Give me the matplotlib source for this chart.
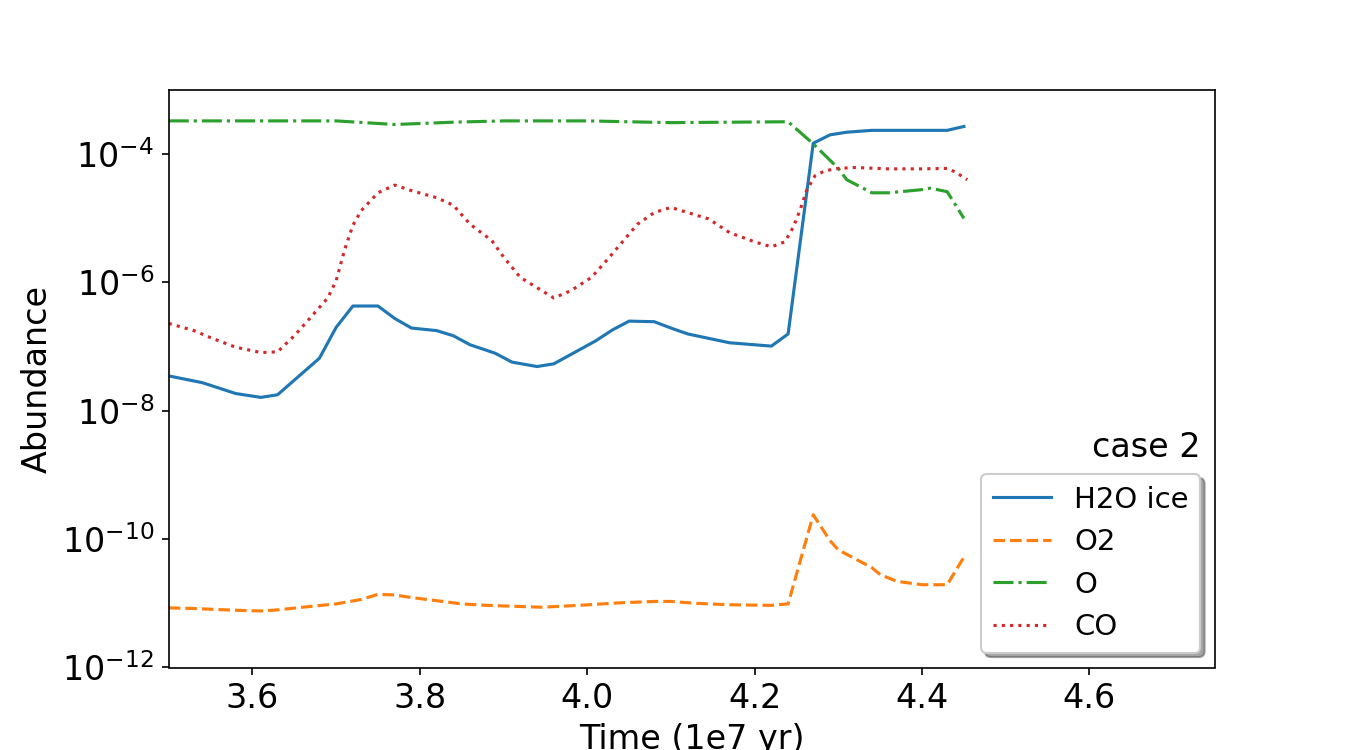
import numpy as np
import matplotlib
matplotlib.use("Agg")
import matplotlib.pyplot as plt
from matplotlib.ticker import NullLocator

# H2O ice
t_h2o = [3.50, 3.54, 3.58, 3.61, 3.63, 3.68, 3.70, 3.72, 3.75, 3.77, 3.79, 3.82,
         3.84, 3.86, 3.89, 3.91, 3.94, 3.96, 4.01, 4.03, 4.05, 4.08, 4.10, 4.12,
         4.17, 4.22, 4.24, 4.27, 4.29, 4.31, 4.34, 4.43, 4.45]
h2o_ice = [3.5e-8, 2.75e-8, 1.86e-8, 1.62e-8, 1.78e-8, 6.6e-8, 2.0e-7, 4.3e-7, 4.3e-7,
           2.75e-7, 1.95e-7, 1.78e-7, 1.48e-7, 1.07e-7, 7.9e-8, 5.75e-8, 4.9e-8, 5.4e-8,
           1.23e-7, 1.82e-7, 2.5e-7, 2.45e-7, 1.95e-7, 1.58e-7, 1.15e-7, 1.02e-7, 1.58e-7,
           1.48e-4, 2.0e-4, 2.2e-4, 2.35e-4, 2.35e-4, 2.7e-4]

# O2
t_o2 = [3.50, 3.53, 3.58, 3.61, 3.63, 3.66, 3.70, 3.73, 3.75, 3.77, 3.79, 3.82,
        3.85, 3.88, 3.945, 3.99, 4.04, 4.08, 4.10, 4.13, 4.17, 4.22, 4.24, 4.27,
        4.29, 4.30, 4.34, 4.35, 4.37, 4.40, 4.43, 4.45]
o2 = [8.5e-12, 8.3e-12, 7.8e-12, 7.6e-12, 7.9e-12, 8.7e-12, 9.8e-12, 1.15e-11, 1.38e-11,
      1.35e-11, 1.23e-11, 1.1e-11, 9.8e-12, 9.3e-12, 8.7e-12, 9.3e-12, 1.02e-11, 1.07e-11,
      1.07e-11, 1.0e-11, 9.5e-12, 9.3e-12, 9.8e-12, 2.4e-10, 9.5e-11, 6.8e-11, 3.6e-11,
      2.8e-11, 2.2e-11, 1.95e-11, 1.95e-11, 5.25e-11]

# O
t_o = [3.50, 3.70, 3.77, 3.84, 3.90, 4.00, 4.10, 4.24, 4.27, 4.30, 4.31, 4.34,
       4.36, 4.40, 4.41, 4.43, 4.45]
o = [3.3e-4, 3.3e-4, 2.9e-4, 3.15e-4, 3.3e-4, 3.3e-4, 3.1e-4, 3.2e-4, 1.45e-4, 6.0e-5,
     4.0e-5, 2.5e-5, 2.5e-5, 2.8e-5, 2.95e-5, 2.6e-5, 1.0e-5]

# CO
t_co = [3.50, 3.53, 3.55, 3.58, 3.61, 3.63, 3.65, 3.67, 3.69, 3.70, 3.71, 3.72,
        3.73, 3.75, 3.77, 3.79, 3.82, 3.84, 3.86, 3.886, 3.90, 3.92, 3.94, 3.96,
        3.98, 4.005, 4.025, 4.04, 4.06, 4.08, 4.10, 4.12, 4.145, 4.17, 4.20, 4.22,
        4.236, 4.246, 4.254, 4.262, 4.272, 4.284, 4.30, 4.32, 4.36, 4.40, 4.43,
        4.44, 4.454]
co = [2.3e-7, 1.78e-7, 1.38e-7, 9.8e-8, 8.1e-8, 8.3e-8, 1.48e-7, 2.9e-7, 5.75e-7,
      1.07e-6, 3.2e-6, 7.8e-6, 1.32e-5, 2.5e-5, 3.3e-5, 2.7e-5, 2.1e-5, 1.6e-5,
      8.1e-6, 4.5e-6, 2.5e-6, 1.2e-6, 8.3e-7, 5.75e-7, 7.4e-7, 1.2e-6, 2.35e-6,
      4.0e-6, 8.1e-6, 1.23e-5, 1.48e-5, 1.23e-5, 9.8e-6, 6.0e-6, 4.3e-6, 3.6e-6,
      4.3e-6, 7.2e-6, 1.32e-5, 2.7e-5, 4.6e-5, 5.5e-5, 6.0e-5, 6.2e-5, 5.9e-5,
      5.9e-5, 6.0e-5, 5.25e-5, 4.0e-5]

y_ticks = [1e-12, 1e-10, 1e-8, 1e-6, 1e-4]

fig, ax = plt.subplots(figsize=(9, 5), dpi=150)

ax.plot(t_h2o, h2o_ice, '-', label='H2O ice')
ax.plot(t_o2, o2, '--', label='O2')
ax.plot(t_o, o, '-.', label='O')
ax.plot(t_co, co, ':', color='tab:red', label='CO')

ax.set_yscale('log')
ax.set_xlim(3.5, 4.75)
ax.set_ylim(1e-12, 1e-3)
ax.set_yticks(y_ticks)
ax.yaxis.set_minor_locator(NullLocator())
ax.set_xlabel('Time (1e7 yr)', fontsize=16)
ax.set_ylabel('Abundance', fontsize=16)
ax.tick_params(labelsize=16)

ax.legend(loc='lower right', fontsize=14, shadow=True)
ax.text(0.986, 0.365, 'case 2', ha='right', va='baseline', fontsize=16,
        transform=ax.transAxes)

fig.savefig('out.png', dpi=150)
